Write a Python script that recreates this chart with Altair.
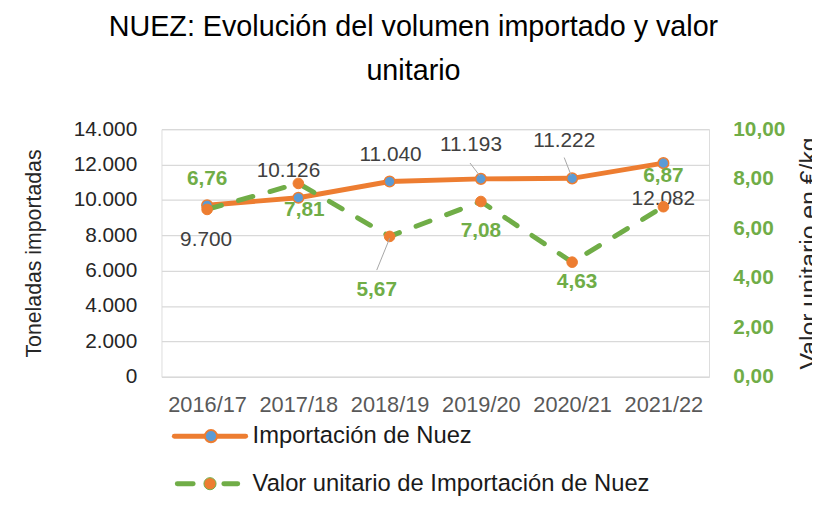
import altair as alt
import pandas as pd

# ---- data ----
campanas = ["2016/17", "2017/18", "2018/19", "2019/20", "2020/21", "2021/22"]
importacion_t = [9700, 10126, 11040, 11193, 11222, 12082]
valor_unitario = [6.76, 7.81, 5.67, 7.08, 4.63, 6.87]

FONT = "Liberation Sans"
ORANGE = "#ED7D31"
BLUE = "#5B9BD5"
GREEN = "#70AD47"

df = pd.DataFrame({
    "cat": campanas,
    "imp": importacion_t,
    "val": valor_unitario,
    "imp_label": [f"{v:,}".replace(",", ".") for v in importacion_t],
    "val_label": [f"{v:.2f}".replace(".", ",") for v in valor_unitario],
})

# label placement styles (pixel offsets from each point)
imp_offsets = {"2016/17": (-1, 35), "2017/18": (-10, -27), "2018/19": (1, -27),
               "2019/20": (-10, -34), "2020/21": (-8, -38), "2021/22": (0, 36)}
val_offsets = {"2016/17": (0, -31), "2017/18": (6, 27), "2018/19": (-13, 54),
               "2019/20": (0, 30), "2020/21": (5, 20), "2021/22": (0, -31)}
imp_leaders = {"2019/20": (-11, -16, -1, -3), "2020/21": (-8, -21, -1, -3)}
val_leaders = {"2018/19": (-13, 34, 0, 2)}

W, H = 553, 250

x_enc = alt.X("cat:N", sort=campanas,
              scale=alt.Scale(type="point", padding=0.5),
              axis=alt.Axis(title=None, labelAngle=0, ticks=False, domain=False, grid=False,
                            labelFontSize=22, labelColor="#595959", labelFont=FONT,
                            labelPadding=18))

yL = alt.Y("imp:Q", scale=alt.Scale(domain=[0, 14000], nice=False),
           axis=alt.Axis(values=list(range(0, 14001, 2000)),
                         labelExpr="replace(format(datum.value, ','), ',', '.')",
                         title="Toneladas importadas", grid=True, gridColor="#d9d9d9",
                         gridWidth=1.3, domain=False, ticks=False,
                         labelFontSize=21, labelColor="#262626", labelFont=FONT,
                         labelPadding=25, titleFont=FONT, titleFontSize=21.5,
                         titleFontWeight="normal", titleColor="#262626", titlePadding=28))

yR = alt.Y("val:Q", scale=alt.Scale(domain=[0, 10], nice=False),
           axis=alt.Axis(orient="right", values=[0, 2, 4, 6, 8, 10],
                         labelExpr="replace(format(datum.value, '.2f'), '.', ',')",
                         title="Valor unitario en €/kg", grid=False, domain=False, ticks=False,
                         labelFontSize=21, labelColor=GREEN, labelFontWeight="bold",
                         labelFont=FONT, labelPadding=24, titleFont=FONT, titleFontSize=25,
                         titleFontWeight="normal", titleColor="#262626", titleAngle=270,
                         titleBaseline="top", titlePadding=12))

base = alt.Chart(df)

# left (primary) series
left_layers = [
    base.mark_line(color=ORANGE, strokeWidth=5, strokeCap="round").encode(x=x_enc, y=yL),
    base.mark_point(filled=True, size=115, fill=BLUE, stroke=ORANGE, strokeWidth=1.5, opacity=1)
        .encode(x=x_enc, y=yL),
]
for c, (x0, y0, x1, y1) in imp_leaders.items():
    left_layers.append(
        base.transform_filter(alt.datum.cat == c)
        .mark_rule(color="#a6a6a6", strokeWidth=1, xOffset=x0, yOffset=y0, x2Offset=x1, y2Offset=y1)
        .encode(x=x_enc, x2=alt.X2("cat"), y=yL, y2=alt.Y2("imp")))
for c, (dx, dy) in imp_offsets.items():
    left_layers.append(
        base.transform_filter(alt.datum.cat == c)
        .mark_text(dx=dx, dy=dy, fontSize=21, font=FONT, color="#404040", baseline="middle")
        .encode(x=x_enc, y=yL, text="imp_label:N"))
left = alt.layer(*left_layers)

# right (secondary) series
right_layers = [
    base.mark_line(color=GREEN, strokeWidth=5, strokeDash=[15, 18], strokeCap="round")
        .encode(x=x_enc, y=yR),
    base.mark_point(filled=True, size=115, fill=ORANGE, stroke=ORANGE, strokeWidth=1, opacity=1)
        .encode(x=x_enc, y=yR),
]
for c, (x0, y0, x1, y1) in val_leaders.items():
    right_layers.append(
        base.transform_filter(alt.datum.cat == c)
        .mark_rule(color="#a6a6a6", strokeWidth=1, xOffset=x0, yOffset=y0, x2Offset=x1, y2Offset=y1)
        .encode(x=x_enc, x2=alt.X2("cat"), y=yR, y2=alt.Y2("val")))
for c, (dx, dy) in val_offsets.items():
    right_layers.append(
        base.transform_filter(alt.datum.cat == c)
        .mark_text(dx=dx, dy=dy, fontSize=21, font=FONT, color=GREEN, fontWeight="bold",
                   baseline="middle")
        .encode(x=x_enc, y=yR, text="val_label:N"))
right = alt.layer(*right_layers)

# manual legend
one = alt.Chart(pd.DataFrame({"k": [0]}))
legend = [
    one.mark_rule(color=ORANGE, strokeWidth=5, strokeCap="round")
       .encode(x=alt.value(13), x2=alt.value(85), y=alt.value(310)),
    one.mark_point(filled=True, size=150, fill=BLUE, stroke=ORANGE, strokeWidth=2, opacity=1)
       .encode(x=alt.value(50), y=alt.value(310)),
    one.mark_text(align="left", baseline="middle", fontSize=24, font=FONT, color="#1a1a1a")
       .encode(x=alt.value(92), y=alt.value(310), text=alt.value("Importación de Nuez")),
    one.mark_rule(color=GREEN, strokeWidth=5, strokeCap="round")
       .encode(x=alt.value(16), x2=alt.value(32), y=alt.value(358)),
    one.mark_rule(color=GREEN, strokeWidth=5, strokeCap="round")
       .encode(x=alt.value(63), x2=alt.value(77), y=alt.value(358)),
    one.mark_point(filled=True, size=150, fill=ORANGE, stroke=GREEN, strokeWidth=1, opacity=1)
       .encode(x=alt.value(49), y=alt.value(358)),
    one.mark_text(align="left", baseline="middle", fontSize=24, font=FONT, color="#1a1a1a")
       .encode(x=alt.value(92), y=alt.value(358),
               text=alt.value("Valor unitario de Importación de Nuez")),
]

chart = alt.layer(left, right, *legend).resolve_scale(y="independent").properties(
    width=W, height=H,
    autosize=alt.AutoSizeParams(type="none"),
    padding={"left": 155, "top": 120, "right": 104, "bottom": 119},
    title=alt.TitleParams(
        text=["NUEZ: Evolución del volumen importado y valor", "unitario"],
        fontSize=29, font=FONT, fontWeight="normal", color="#000000",
        anchor="middle", dx=-22, offset=4, lineHeight=44, baseline="bottom"),
).configure_view(stroke=None).configure(background="white")

chart.save("out.html", embed_options={"renderer": "svg", "actions": False})
